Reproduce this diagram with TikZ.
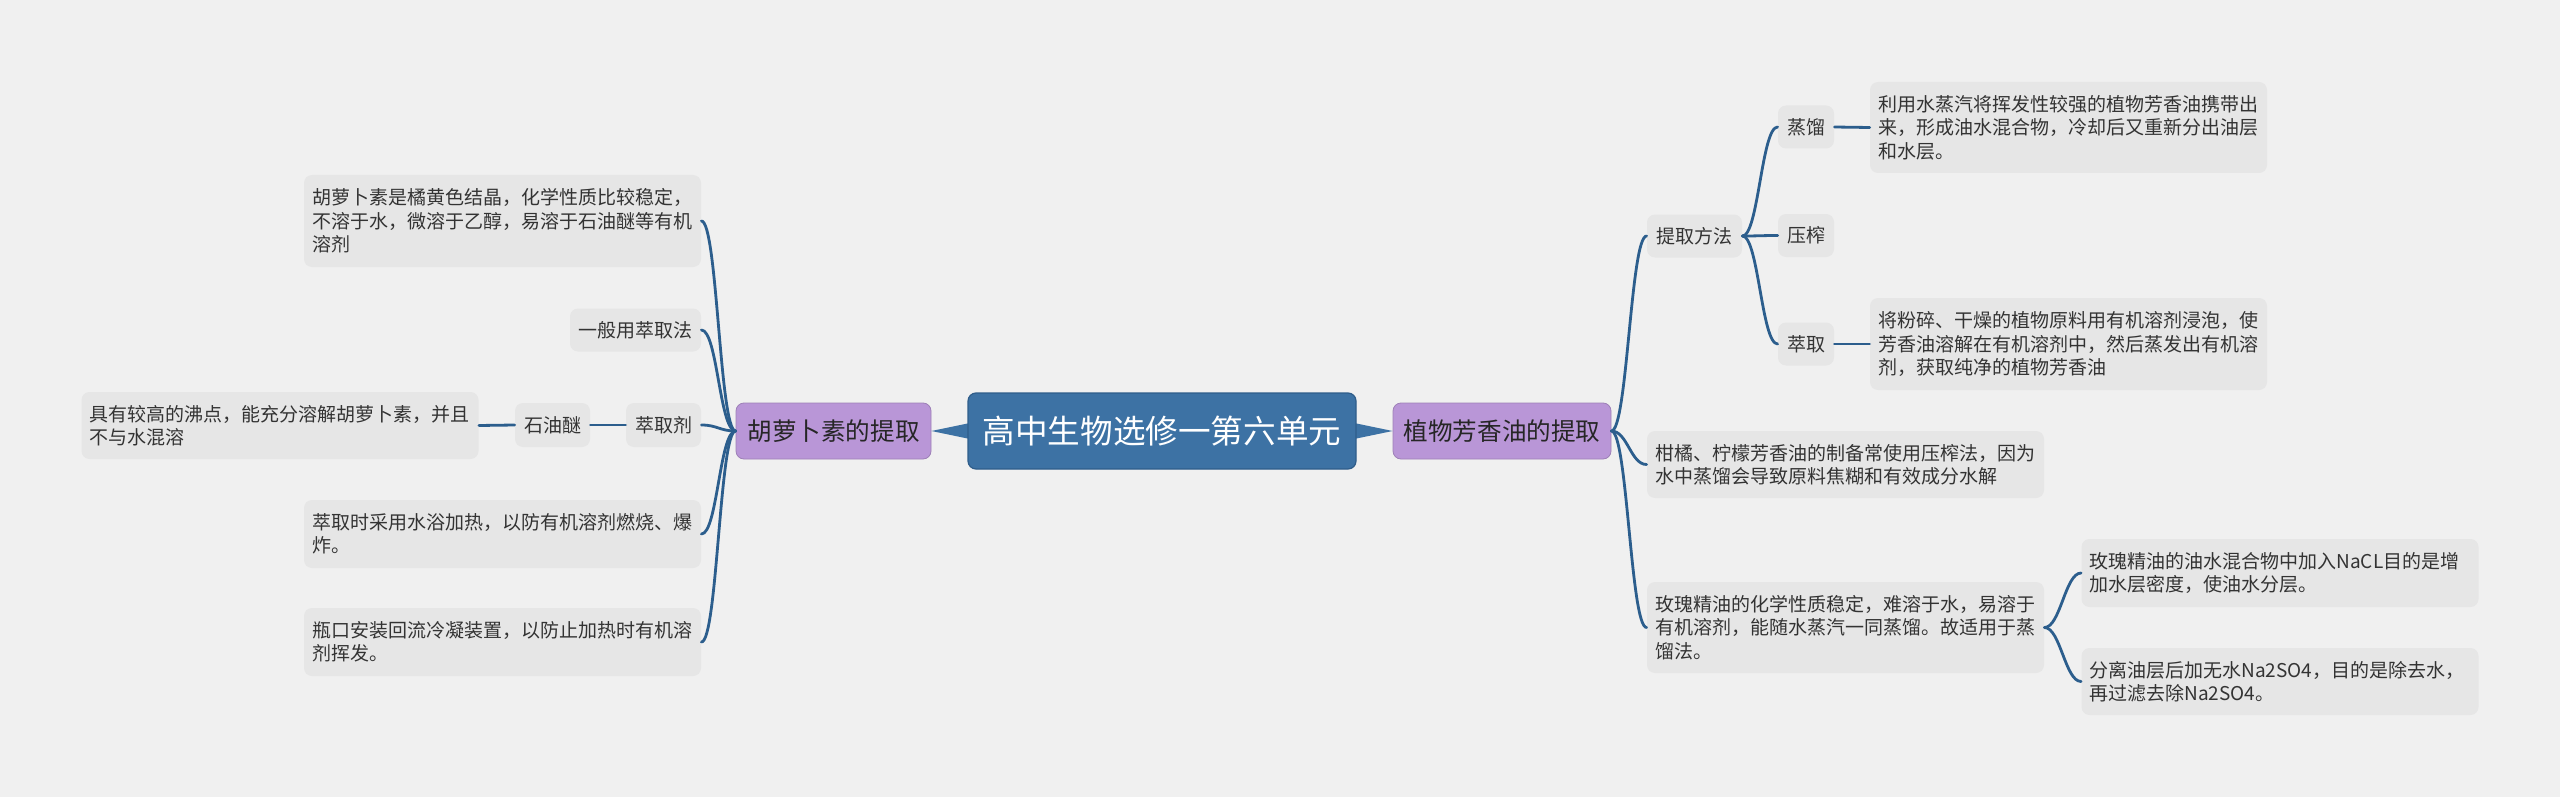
\documentclass[tikz,border=0pt]{standalone}
\usepackage{fontspec}
\setmainfont{Noto Sans CJK SC}
\definecolor{bgc}{HTML}{F0F0F0}
\definecolor{boxc}{HTML}{E6E6E6}
\definecolor{txtc}{HTML}{333333}
\definecolor{cenc}{HTML}{3D72A4}
\definecolor{cenb}{HTML}{2F5D8A}
\definecolor{brc}{HTML}{B996D7}
\definecolor{linec}{HTML}{2C5E8D}
\tikzset{
  wbox/.style={fill=boxc, rounded corners=4pt, text=txtc, inner xsep=4pt, inner ysep=0pt,
    align=left, text width=190.5pt, font=\fontsize{9.5}{11.7}\selectfont},
  sbox/.style={fill=boxc, rounded corners=4pt, text=txtc, inner sep=0pt, align=center,
    minimum height=21.5pt, font=\fontsize{9.5}{11.7}\selectfont},
  brbox/.style={fill=brc, draw=brc!85!black, line width=0.4pt, rounded corners=4pt, text=black!85, inner sep=0pt,
    minimum height=28pt, font=\fontsize{12.3}{14}\selectfont},
  cenbox/.style={fill=cenc, draw=cenb, line width=0.6pt, rounded corners=4pt, text=white, inner sep=0pt,
    minimum width=194pt, minimum height=38pt, font=\fontsize{16.3}{18}\selectfont},
  conn/.style={draw=linec, line width=1.4pt, line cap=round},
  wedge/.style={fill=cenc}
}
\begin{document}
\begin{tikzpicture}[x=0.5pt,y=-0.5pt]
\useasboundingbox (0,0) rectangle (2560,797);
\fill[bgc] (0,0) rectangle (2560,797);

% left subtree
\node[wbox, minimum height=46pt] (A) at (502.5,221) {胡萝卜素是橘黄色结晶，化学性质比较稳定，\\不溶于水，微溶于乙醇，易溶于石油醚等有机\\溶剂};
\node[sbox, minimum width=65.5pt] (B) at (635.5,330) {一般用萃取法};
\node[sbox, minimum width=37.5pt, minimum height=22pt] (C) at (663.5,425) {萃取剂};
\node[sbox, minimum width=37.5pt, minimum height=22pt] (D) at (552.5,425) {石油醚};
\node[wbox, minimum height=33.5pt] (E) at (280,425.5) {具有较高的沸点，能充分溶解胡萝卜素，并且\\不与水混溶};
\node[wbox, minimum height=34pt] (F) at (502.5,534) {萃取时采用水浴加热，以防有机溶剂燃烧、爆\\炸。};
\node[wbox, minimum height=34pt] (G) at (502.5,642) {瓶口安装回流冷凝装置，以防止加热时有机溶\\剂挥发。};

% right subtree
\node[sbox, minimum width=47.5pt] (M) at (1694.5,236) {提取方法};
\node[sbox, minimum width=28pt] (S1) at (1806,127) {蒸馏};
\node[sbox, minimum width=28pt] (S2) at (1806,235.5) {压榨};
\node[sbox, minimum width=28pt] (S3) at (1806,344) {萃取};
\node[wbox, minimum height=45.5pt] (T1) at (2068.5,127.5) {利用水蒸汽将挥发性较强的植物芳香油携带出\\来，形成油水混合物，冷却后又重新分出油层\\和水层。};
\node[wbox, minimum height=46pt] (T3) at (2068.5,344) {将粉碎、干燥的植物原料用有机溶剂浸泡，使\\芳香油溶解在有机溶剂中，然后蒸发出有机溶\\剂，获取纯净的植物芳香油};
\node[wbox, minimum height=33.5pt] (U) at (1845.5,464.5) {柑橘、柠檬芳香油的制备常使用压榨法，因为\\水中蒸馏会导致原料焦糊和有效成分水解};
\node[wbox, minimum height=45.5pt] (V) at (1845.5,627.5) {玫瑰精油的化学性质稳定，难溶于水，易溶于\\有机溶剂，能随水蒸汽一同蒸馏。故适用于蒸\\馏法。};
\node[wbox, minimum height=34pt] (W1) at (2280,573) {玫瑰精油的油水混合物中加入NaCL目的是增\\加水层密度，使油水分层。};
\node[wbox, minimum height=33.5pt] (W2) at (2280,681.5) {分离油层后加无水Na2SO4，目的是除去水，\\再过滤去除Na2SO4。};

% branches and center
\node[brbox, minimum width=97.5pt] (L) at (833.5,431) {胡萝卜素的提取};
\node[brbox, minimum width=109pt] (R) at (1502,431) {植物芳香油的提取};
\coordinate (cw) at (968,431);
\coordinate (ce) at (1356,431);
\fill[wedge] (L.east) -- ([yshift=3.8pt]cw) -- ([yshift=-3.8pt]cw) -- cycle;
\fill[wedge] (R.west) -- ([yshift=3.8pt]ce) -- ([yshift=-3.8pt]ce) -- cycle;
\node[cenbox] (Cn) at (1162,431) {高中生物选修一第六单元};

% left connectors
\foreach \t in {A,B,C,F,G}
  \draw[conn] (L.west) .. controls +(-16,0) and +(16,0) .. (\t.east);
\draw[conn] (C.west) -- (D.east);
\draw[conn] (D.west) -- (E.east);

% right connectors
\foreach \t in {M,U,V}
  \draw[conn] (R.east) .. controls +(16,0) and +(-16,0) .. (\t.west);
\foreach \t in {S1,S2,S3}
  \draw[conn] (M.east) .. controls +(16,0) and +(-16,0) .. (\t.west);
\draw[conn] (S1.east) -- (T1.west);
\draw[conn] (S3.east) -- (T3.west);
\foreach \t in {W1,W2}
  \draw[conn] (V.east) .. controls +(16,0) and +(-16,0) .. (\t.west);
\end{tikzpicture}
\end{document}
